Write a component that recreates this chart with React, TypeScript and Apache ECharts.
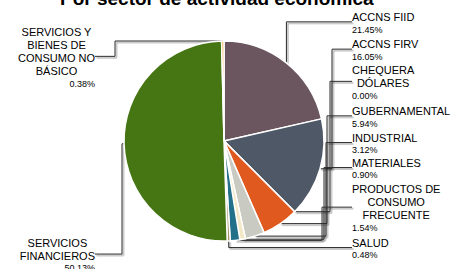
import React, { useEffect, useRef } from 'react';
import * as echarts from 'echarts';

const categories = [
  'ACCNS FIID',
  'ACCNS FIRV',
  'CHEQUERA\nDÓLARES',
  'GUBERNAMENTAL',
  'INDUSTRIAL',
  'MATERIALES',
  'PRODUCTOS DE\nCONSUMO\nFRECUENTE',
  'SALUD',
  'SERVICIOS\nFINANCIEROS',
  'SERVICIOS Y\nBIENES DE\nCONSUMO NO\nBÁSICO',
];
const values = [21.45, 16.05, 0.0, 5.94, 3.12, 0.9, 1.54, 0.48, 50.13, 0.38];
const colors = [
  '#6B5660', '#4E5866', '#9A9A9A', '#E05A1F', '#C9CAC1',
  '#F3E8C6', '#23708A', '#A8946A', '#467614', '#F2A93B',
];

// label layout (positions only)
const labelSide = ['r', 'r', 'r', 'r', 'r', 'r', 'r', 'r', 'l', 'l'];
const labelTop = [10.6, 37.9, 63.6, 104.6, 131.3, 156.3, 182.9, 236.3, 236.3, 25.6];
const elbowX: (number | null)[] = [null, 332, 330, 327, 326, 324, 322, null, 122, 115];

const CX = 224;
const CY = 141;
const R = 100;
const FONT = '"Liberation Sans", Arial, sans-serif';

export default function App() {
  const ref = useRef<HTMLDivElement>(null);
  useEffect(() => {
    if (!ref.current) return;
    const chart = echarts.init(ref.current, undefined, { renderer: 'svg' });
    const total = values.reduce((a, b) => a + b, 0);
    const midPoint = (i: number) => {
      let before = 0;
      for (let k = 0; k < i; k++) before += values[k];
      const a = ((before + values[i] / 2) / total) * Math.PI * 2;
      return [CX + R * Math.sin(a), CY - R * Math.cos(a)];
    };
    chart.setOption({
      animation: false,
      title: {
        text: 'Por sector de actividad económica',
        left: 60,
        top: -11,
        padding: 0,
        textStyle: { fontFamily: FONT, fontSize: 19, fontWeight: 'bold', color: '#000' },
      },
      series: [
        {
          type: 'pie',
          center: [CX, CY],
          radius: R,
          startAngle: 90,
          clockwise: true,
          avoidLabelOverlap: false,
          minShowLabelAngle: -1,
          itemStyle: { borderColor: '#ffffff', borderWidth: 1.5 },
          data: categories.map((name, i) => ({
            name,
            value: values[i],
            itemStyle: { color: colors[i] },
          })),
          label: {
            show: true,
            position: 'outside',
            fontFamily: FONT,
            color: '#000',
            formatter: (p: any) =>
              `{n|${p.name}}\n{${labelSide[p.dataIndex] === 'r' ? 'vl' : 'vr'}|${Number(p.value).toFixed(2)}%}`,
            rich: {
              n: { fontFamily: FONT, fontSize: 11, lineHeight: 13, align: 'center', color: '#000' },
              vl: { fontFamily: FONT, fontSize: 9, lineHeight: 12, align: 'left', color: '#000' },
              vr: { fontFamily: FONT, fontSize: 9, lineHeight: 12, align: 'right', color: '#000' },
            },
          },
          labelLine: {
            show: true,
            lineStyle: {
              color: '#2a2a2a',
              width: 1,
              shadowColor: 'rgba(0,0,0,0.4)',
              shadowBlur: 0,
              shadowOffsetX: 1.5,
              shadowOffsetY: 1.5,
            },
          },
          labelLayout: (params: any) => {
            const i = params.dataIndex;
            const right = labelSide[i] === 'r';
            const h = params.labelRect ? params.labelRect.height : 25;
            const x = right ? 352 : 95;
            const top = labelTop[i];
            const ay = top + h / 2;
            const p0 =
              params.labelLinePoints && params.labelLinePoints[0]
                ? params.labelLinePoints[0]
                : midPoint(i);
            const ex = elbowX[i];
            const pts =
              ex == null
                ? [p0, [p0[0], ay], [x, ay]]
                : [p0, [ex, p0[1]], [ex, ay], [x, ay]];
            return {
              x,
              y: top,
              align: right ? 'left' : 'right',
              verticalAlign: 'top',
              labelLinePoints: pts,
            };
          },
        },
      ],
    });
    return () => chart.dispose();
  }, []);
  return (
    <div
      ref={ref}
      style={{ position: 'absolute', left: 0, top: 0, width: 456, height: 269 }}
    />
  );
}
